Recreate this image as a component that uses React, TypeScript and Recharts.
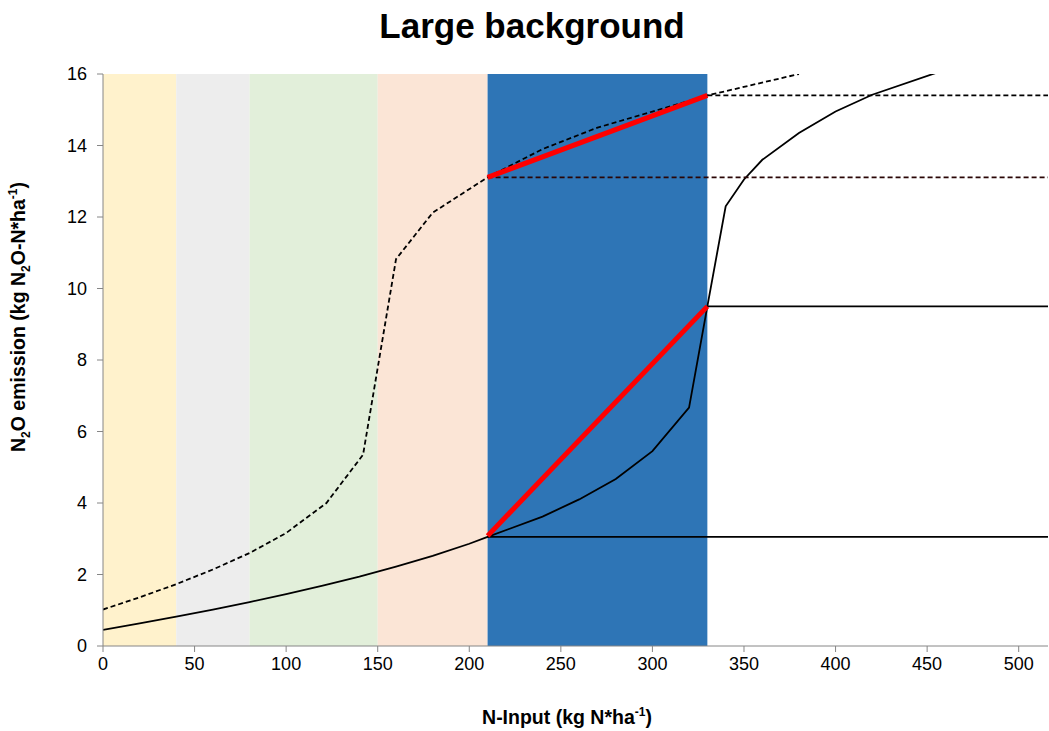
import { ComposedChart, Line, XAxis, YAxis, ReferenceArea } from 'recharts';

const xMax = 516;
const xTicks = [0, 50, 100, 150, 200, 250, 300, 350, 400, 450, 500];
const yTicks = [0, 2, 4, 6, 8, 10, 12, 14, 16];

// background bands (N-input ranges)
const bandFrom = [0, 40, 80, 150, 210];
const bandTo = [40, 80, 150, 210, 330];
const bandColors = ['#FFF2CC', '#EDEDED', '#E2EFDA', '#FBE5D6', '#2E75B6'];

// solid curve
const solidInput = [0, 20, 40, 60, 80, 100, 120, 140, 160, 180, 200, 210, 240, 260, 280, 300, 320, 330, 340, 350, 360, 380, 400, 420, 460];
const solidEmission = [0.45, 0.63, 0.82, 1.02, 1.23, 1.45, 1.69, 1.94, 2.22, 2.52, 2.86, 3.05, 3.62, 4.1, 4.67, 5.45, 6.67, 9.5, 12.3, 13.05, 13.6, 14.35, 14.95, 15.42, 16.12];

// dashed curve
const dashedInput = [0, 20, 40, 60, 80, 100, 122, 142, 160, 180, 210, 240, 270, 300, 330, 380];
const dashedEmission = [1.02, 1.36, 1.73, 2.14, 2.6, 3.16, 4.0, 5.35, 10.82, 12.12, 13.11, 13.9, 14.5, 14.95, 15.4, 16.0];

// red secants
const secantInput = [210, 330];
const secantLow = [3.08, 9.5];
const secantHigh = [13.11, 15.4];

// horizontal levels, drawn from their start to the right edge
const levelStart = [210, 330, 210, 330];
const levelValue = [3.05, 9.5, 13.11, 15.4];
const levelDashed = [false, false, true, true];
const levelColor = ['#000000', '#000000', '#2a0606', '#000000'];

const pts = (xs: number[], ys: number[]) => xs.map((x, i) => ({ x, y: ys[i] }));

const font = '"Liberation Sans", Arial, sans-serif';
const axisGray = '#868686';

export default function App() {
    const width = 1049;
    const height = 731;

    return (
        <div style={{ position: 'absolute', left: 0, top: 0, width, height, background: '#fff' }}>
            <ComposedChart width={width} height={height} margin={{ top: 74, right: 1, bottom: 0, left: 0 }}>
                <XAxis
                    dataKey="x"
                    type="number"
                    domain={[0, xMax]}
                    ticks={xTicks}
                    allowDataOverflow
                    height={85}
                    stroke={axisGray}
                    tickSize={6}
                    tickMargin={5}
                    tick={{ fill: '#000', fontSize: 18, fontFamily: font }}
                />
                <YAxis
                    dataKey="y"
                    type="number"
                    domain={[0, 16]}
                    ticks={yTicks}
                    allowDataOverflow
                    width={103}
                    stroke={axisGray}
                    tickSize={6}
                    tickMargin={10}
                    tick={{ fill: '#000', fontSize: 18, fontFamily: font }}
                />
                {bandFrom.map((from, i) => (
                    <ReferenceArea
                        key={'band' + i}
                        x1={from}
                        x2={bandTo[i]}
                        y1={0}
                        y2={16}
                        fill={bandColors[i]}
                        fillOpacity={1}
                        stroke="none"
                    />
                ))}
                <Line
                    data={pts(dashedInput, dashedEmission)}
                    dataKey="y"
                    type="linear"
                    stroke="#000"
                    strokeWidth={1.8}
                    strokeDasharray="5 3"
                    dot={false}
                    isAnimationActive={false}
                />
                <Line
                    data={pts(solidInput, solidEmission)}
                    dataKey="y"
                    type="linear"
                    stroke="#000"
                    strokeWidth={1.8}
                    dot={false}
                    isAnimationActive={false}
                />
                {levelStart.map((start, i) => (
                    <Line
                        key={'level' + i}
                        data={pts([start, xMax], [levelValue[i], levelValue[i]])}
                        dataKey="y"
                        type="linear"
                        stroke={levelColor[i]}
                        strokeWidth={1.8}
                        strokeDasharray={levelDashed[i] ? '5 3' : undefined}
                        dot={false}
                        isAnimationActive={false}
                    />
                ))}
                <Line
                    data={pts(secantInput, secantLow)}
                    dataKey="y"
                    type="linear"
                    stroke="#FF0000"
                    strokeWidth={5}
                    dot={false}
                    isAnimationActive={false}
                />
                <Line
                    data={pts(secantInput, secantHigh)}
                    dataKey="y"
                    type="linear"
                    stroke="#FF0000"
                    strokeWidth={5}
                    dot={false}
                    isAnimationActive={false}
                />
            </ComposedChart>
            <svg
                width={width}
                height={height}
                style={{ position: 'absolute', left: 0, top: 0, pointerEvents: 'none' }}
                fontFamily={font}
            >
                <text x={532} y={38} textAnchor="middle" fontSize={35} fontWeight="bold" fill="#000">
                    Large background
                </text>
                <text x={567} y={724} textAnchor="middle" fontSize={19.5} fontWeight="bold" fill="#000">
                    N-Input (kg N*ha
                    <tspan fontSize={12} dy={-8}>-1</tspan>
                    <tspan dy={8}>)</tspan>
                </text>
                <text
                    transform="translate(25,317) rotate(-90)"
                    textAnchor="middle"
                    fontSize={19.5}
                    fontWeight="bold"
                    fill="#000"
                >
                    N<tspan fontSize={12} dy={5}>2</tspan>
                    <tspan dy={-5}>O emission (kg N</tspan>
                    <tspan fontSize={12} dy={5}>2</tspan>
                    <tspan dy={-5}>O-N*ha</tspan>
                    <tspan fontSize={12} dy={-8}>-1</tspan>
                    <tspan dy={8}>)</tspan>
                </text>
            </svg>
        </div>
    );
}
